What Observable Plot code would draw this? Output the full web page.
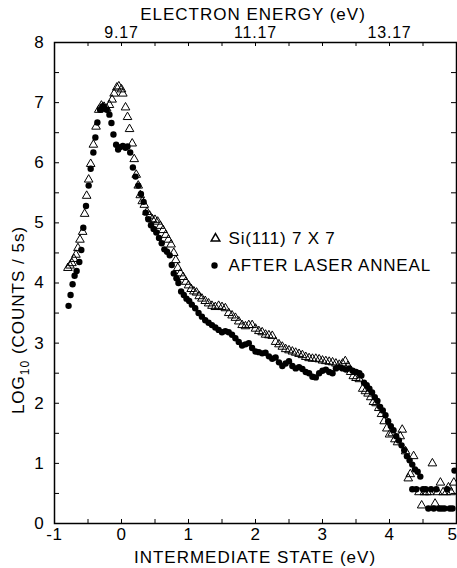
<!DOCTYPE html>
<html><head><meta charset="utf-8">
<script src="https://cdn.jsdelivr.net/npm/d3@7"></script>
<script src="https://cdn.jsdelivr.net/npm/@observablehq/plot@0.6"></script>
<style>body{margin:0;background:#fff}</style>
</head><body><div id="chart"></div>
<script>
const seriesNames = ["Si(111) 7 X 7", "AFTER LASER ANNEAL"];
const xTicks = [-1, 0, 1, 2, 3, 4, 5];
const xMinor = [-0.5, 0.5, 1.5, 2.5, 3.5, 4.5];
const yTicks = [0, 1, 2, 3, 4, 5, 6, 7, 8];
const yMinor = [0.5, 1.5, 2.5, 3.5, 4.5, 5.5, 6.5, 7.5];
const topTickPos = [0, 2, 4];
const topTickLabels = ["9.17", "11.17", "13.17"];

const triX = [-0.80,-0.77,-0.74,-0.71,-0.68,-0.65,-0.62,-0.58,-0.55,-0.52,-0.49,-0.46,-0.42,-0.38,-0.34,-0.30,-0.26,-0.22,-0.18,-0.14,-0.11,-0.07,-0.04,0.00,0.02,0.06,0.09,0.12,0.16,0.19,0.22,0.25,0.28,0.31,0.34,0.38,0.42,0.46,0.50,0.54,0.58,0.62,0.66,0.70,0.74,0.78,0.81,0.84,0.88,0.92,0.96,1.00,1.04,1.08,1.12,1.16,1.20,1.25,1.30,1.35,1.40,1.45,1.50,1.55,1.60,1.65,1.70,1.75,1.80,1.85,1.90,1.95,2.00,2.05,2.10,2.15,2.20,2.25,2.30,2.35,2.40,2.45,2.50,2.55,2.60,2.65,2.70,2.75,2.80,2.85,2.90,2.95,3.00,3.05,3.10,3.15,3.20,3.25,3.30,3.34,3.38,3.42,3.46,3.50,3.55,3.60,3.64,3.68,3.72,3.76,3.80,3.84,3.88,3.92,3.96,4.00,4.04,4.08,4.12,4.16,4.19,4.24,4.28,4.31,4.36,4.44,4.48,4.52,4.56,4.60,4.64,4.68,4.72,4.76,4.80,4.85,4.88,4.92,4.96];
const triY = [4.25,4.29,4.33,4.40,4.47,4.58,4.72,4.85,5.15,5.45,5.72,5.98,6.30,6.60,6.88,6.95,6.93,6.90,6.96,7.05,7.15,7.25,7.27,7.22,7.15,6.92,6.76,6.56,6.32,6.06,5.80,5.62,5.46,5.36,5.30,5.18,5.12,5.06,5.05,5.02,4.95,4.88,4.80,4.72,4.64,4.50,4.38,4.25,4.16,4.10,4.02,3.96,3.90,3.86,3.84,3.78,3.74,3.70,3.66,3.62,3.60,3.62,3.60,3.58,3.50,3.46,3.42,3.36,3.30,3.28,3.30,3.30,3.24,3.20,3.18,3.14,3.13,3.12,3.02,2.98,2.94,2.90,2.88,2.86,2.84,2.82,2.80,2.77,2.75,2.74,2.74,2.73,2.71,2.70,2.69,2.68,2.66,2.64,2.66,2.70,2.62,2.52,2.45,2.42,2.40,2.24,2.20,2.16,2.10,2.02,2.00,1.92,1.82,1.70,1.58,1.48,1.50,1.40,1.35,1.45,1.56,1.20,0.75,0.82,1.12,0.52,0.30,0.52,0.52,0.52,1.00,0.33,0.52,0.68,0.52,0.52,0.60,0.52,0.68];

const dotX = [-0.79,-0.76,-0.73,-0.70,-0.67,-0.63,-0.60,-0.57,-0.53,-0.49,-0.46,-0.42,-0.39,-0.36,-0.32,-0.28,-0.25,-0.22,-0.18,-0.15,-0.12,-0.08,-0.05,-0.02,0.02,0.06,0.09,0.13,0.17,0.21,0.25,0.29,0.33,0.36,0.40,0.44,0.48,0.52,0.56,0.60,0.64,0.68,0.72,0.75,0.78,0.82,0.85,0.89,0.93,0.97,1.01,1.05,1.10,1.15,1.20,1.25,1.30,1.35,1.40,1.45,1.50,1.55,1.60,1.65,1.70,1.75,1.80,1.85,1.90,1.95,2.00,2.05,2.10,2.15,2.20,2.25,2.30,2.35,2.40,2.45,2.50,2.55,2.60,2.65,2.70,2.75,2.80,2.85,2.90,2.95,3.00,3.05,3.10,3.15,3.20,3.25,3.30,3.35,3.40,3.45,3.50,3.55,3.58,3.62,3.66,3.70,3.74,3.78,3.82,3.86,3.90,3.94,3.98,4.02,4.06,4.10,4.14,4.18,4.22,4.26,4.30,4.34,4.38,4.42,4.46,4.34,4.40,4.50,4.54,4.58,4.62,4.66,4.70,4.74,4.78,4.82,4.86,4.90,4.94,4.97];
const dotY = [3.62,3.80,3.98,4.12,4.20,4.35,4.55,4.92,5.28,5.62,5.90,6.17,6.42,6.67,6.88,6.94,6.90,6.88,6.80,6.66,6.47,6.30,6.22,6.26,6.28,6.25,6.27,6.17,5.92,5.77,5.62,5.48,5.35,5.17,5.06,4.96,4.90,4.84,4.75,4.66,4.56,4.52,4.46,4.30,4.16,4.08,4.00,3.86,3.80,3.74,3.70,3.64,3.58,3.50,3.44,3.38,3.34,3.30,3.26,3.22,3.18,3.20,3.18,3.14,3.08,3.02,2.96,2.98,3.00,2.92,2.86,2.85,2.83,2.84,2.78,2.74,2.76,2.68,2.62,2.66,2.70,2.62,2.58,2.60,2.57,2.52,2.50,2.44,2.43,2.50,2.54,2.56,2.52,2.50,2.58,2.60,2.58,2.56,2.58,2.54,2.52,2.50,2.46,2.34,2.30,2.24,2.18,2.10,2.04,1.94,1.88,1.80,1.70,1.62,1.55,1.45,1.38,1.30,1.22,1.12,1.05,0.98,0.90,0.86,0.78,0.57,0.57,0.57,0.57,0.25,0.57,0.25,0.57,0.25,0.25,0.25,0.57,0.25,0.25,0.88];

const tri = triX.map((x, i) => ({x, y: triY[i]}));
const dots = dotX.map((x, i) => ({x, y: dotY[i]}));

const font = "Liberation Sans, Arial, Helvetica, sans-serif";
const tickLen = 4 / 60.1, sideLen = 5 / 67;
const lastTick = xTicks[xTicks.length - 1];

const svg = Plot.plot({
  width: 457, height: 568,
  marginTop: 42, marginBottom: 45, marginLeft: 54, marginRight: 1,
  x: {domain: [-1, 5]},
  y: {domain: [0, 8]},
  style: {fontFamily: font, fontSize: "16px", color: "black", background: "white", overflow: "visible", letterSpacing: "0.8px"},
  marks: [
    Plot.ruleX(xTicks.concat(xMinor), {x: d => d, y1: 0, y2: tickLen, stroke: "black"}),
    Plot.ruleX(xTicks.concat(xMinor), {x: d => d, y1: 8, y2: 8 - tickLen, stroke: "black"}),
    Plot.ruleY(yTicks.concat(yMinor), {y: d => d, x1: -1, x2: -1 + sideLen, stroke: "black"}),
    Plot.ruleY(yTicks.concat(yMinor), {y: d => d, x1: 5, x2: 5 - sideLen, stroke: "black"}),
    Plot.frame({stroke: "black", strokeWidth: 1.5}),
    Plot.axisX(xTicks.slice(0, -1), {anchor: "bottom", tickSize: 0, tickPadding: 4, label: null, fontSize: 17, tickFormat: d => String(d)}),
    Plot.axisX([lastTick], {anchor: "bottom", tickSize: 0, tickPadding: 4, label: null, fontSize: 17, dx: -4, tickFormat: d => String(d)}),
    Plot.axisX(topTickPos, {anchor: "top", tickSize: 0, tickPadding: 5, label: null, fontSize: 16,
      tickFormat: d => topTickLabels[topTickPos.indexOf(d)]}),
    Plot.axisY(yTicks, {anchor: "left", tickSize: 0, tickPadding: 10, label: null, fontSize: 17, tickFormat: d => String(d)}),
    Plot.dot(tri, {x: "x", y: "y", symbol: "triangle", r: 3.2, stroke: "black", strokeWidth: 1, fill: "none"}),
    Plot.dot(dots, {x: "x", y: "y", r: 3.2, fill: "black", stroke: "none"}),
    Plot.dot([seriesNames[0]], {frameAnchor: "top-left", dx: 161, dy: 196, symbol: "triangle", r: 3.2, stroke: "black", fill: "none"}),
    Plot.dot([seriesNames[1]], {frameAnchor: "top-left", dx: 160, dy: 223, r: 3.2, fill: "black"}),
    Plot.text([seriesNames[0]], {text: d => d, frameAnchor: "top-left", dx: 174, dy: 196, textAnchor: "start", lineAnchor: "middle", fontSize: 17}),
    Plot.text([seriesNames[1]], {text: d => d, frameAnchor: "top-left", dx: 174, dy: 223, textAnchor: "start", lineAnchor: "middle", fontSize: 17})
  ]
});

const s = d3.select(svg);
s.append("text").attr("x", 253).attr("y", 20).attr("text-anchor", "middle")
  .attr("font-size", 17).attr("font-family", font).attr("fill", "black").style("letter-spacing", "1px").text("ELECTRON ENERGY (eV)");
s.append("text").attr("x", 255).attr("y", 563).attr("text-anchor", "middle")
  .attr("font-size", 17).attr("font-family", font).attr("fill", "black").style("letter-spacing", "1px").text("INTERMEDIATE STATE (eV)");
const yl = s.append("text").attr("transform", "translate(24,320) rotate(-90)").attr("text-anchor", "middle")
  .attr("font-size", 17).attr("font-family", font).attr("fill", "black").style("letter-spacing", "1px");
yl.append("tspan").text("LOG");
yl.append("tspan").attr("font-size", 12).attr("dy", 5).text("10");
yl.append("tspan").attr("dy", -5).text(" (COUNTS / 5s)");

document.getElementById("chart").appendChild(svg);
</script>
</body></html>
